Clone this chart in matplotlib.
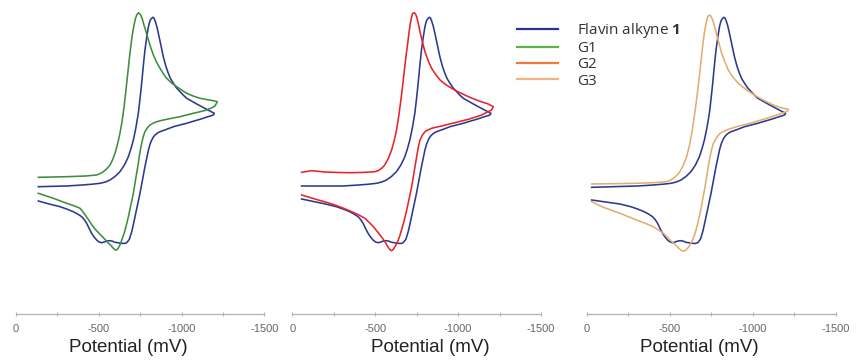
import matplotlib
matplotlib.use("Agg")
import matplotlib.pyplot as plt
from matplotlib.lines import Line2D
from matplotlib.ticker import FixedLocator, FixedFormatter

plt.rcParams["mathtext.fontset"] = "custom"
plt.rcParams["mathtext.rm"] = "Open Sans"
plt.rcParams["mathtext.bf"] = "Open Sans:bold"

# ---- data: cyclic voltammograms (potential in mV, current in arbitrary units) ----
# Flavin alkyne 1: common part of the cycle (forward scan -> vertex -> reverse scan)
flavin_E = [-306, -400, -460, -508, -540, -568, -598, -628, -655, -679, -694, -709,
            -724, -739, -749, -759, -769, -779, -790, -800, -807, -814, -826, -833,
            -840, -850, -860, -875, -890, -905, -920, -935, -951, -970, -991, -1010,
            -1031, -1060, -1092, -1120, -1152, -1175, -1198,
            -1192, -1150, -1112, -1070, -1031, -990, -951, -910, -870, -855, -840,
            -830, -820, -810, -800, -790, -779, -764, -749, -734, -719, -709, -699,
            -685, -669, -655, -638, -618, -598, -583, -568, -556, -544, -530, -518,
            -502, -487, -472, -457, -442, -427, -412, -397, -372, -346, -306, -266,
            -200]
flavin_I = [0.10, 0.20, 0.28, 0.37, 0.50, 0.70, 1.05, 1.53, 2.20, 3.03, 3.80, 4.70,
            5.90, 7.37, 8.80, 10.37, 12.10, 13.70, 15.00, 16.03, 16.50, 16.77, 16.97, 16.90,
            16.63, 16.10, 15.37, 14.20, 13.03, 12.10, 11.37, 10.80, 10.37, 9.90, 9.53, 9.20,
            8.87, 8.60, 8.30, 8.05, 7.77, 7.57, 7.37,
            7.20, 6.98, 6.77, 6.57, 6.37, 6.20, 6.03, 5.77, 5.53, 5.40, 5.20,
            5.00, 4.70, 4.30, 3.70, 2.90, 2.03, 0.70, -0.63, -1.80, -2.97, -3.75, -4.47,
            -5.23, -5.57, -5.65, -5.63, -5.58, -5.53, -5.42, -5.37, -5.38, -5.43, -5.52, -5.57,
            -5.50, -5.30, -5.00, -4.63, -4.15, -3.63, -3.25, -2.97, -2.70, -2.47, -2.20, -1.97,
            -1.70]
# scan start/end of the flavin trace in each panel
flavin_start_E = [-135, -56, -30]
flavin_start_I = [0.03, 0.10, -0.03]
flavin_end_I = [-1.40, -1.20, -1.30]

g1_E = [-135, -306, -420, -487, -510, -528, -548, -568, -583, -598, -613, -628, -641,
        -653, -663, -673, -683, -693, -703, -713, -721, -729, -741, -753, -763, -773,
        -786, -800, -815, -830, -850, -870, -890, -910, -940, -971, -1000, -1031,
        -1070, -1112, -1150, -1192, -1216,
        -1202, -1180, -1152, -1110, -1071, -1030, -991, -950, -910, -880, -850, -830,
        -810, -795, -779, -769, -759, -749, -739, -724, -709, -694, -679, -666, -653,
        -640, -628, -618, -608, -598, -588, -573, -558, -538, -518, -497, -477, -457,
        -437, -412, -387, -346, -306, -266, -226, -180, -135]
g1_I = [0.97, 1.03, 1.10, 1.20, 1.35, 1.53, 1.82, 2.20, 2.70, 3.37, 4.25, 5.37, 6.60,
        8.03, 9.50, 11.03, 12.60, 14.03, 15.25, 16.20, 16.80, 17.20, 17.43, 17.20, 16.80, 16.20,
        15.50, 14.70, 13.90, 13.20, 12.45, 11.87, 11.33, 10.87, 10.40, 10.03, 9.70, 9.37,
        9.10, 8.87, 8.75, 8.63, 8.53,
        8.10, 7.90, 7.70, 7.52, 7.37, 7.20, 7.03, 6.90, 6.77, 6.66, 6.53, 6.40,
        6.20, 5.95, 5.53, 5.05, 4.37, 3.50, 2.37, 0.90, -0.63, -1.80, -2.97, -3.85, -4.63,
        -5.25, -5.80, -6.10, -6.30, -6.28, -6.13, -5.85, -5.60, -5.25, -4.90, -4.55, -4.20, -3.75,
        -3.25, -2.65, -2.13, -1.85, -1.63, -1.38, -1.13, -0.88, -0.63]

g2_E = [-56, -117, -197, -280, -358, -430, -499, -520, -539, -555, -569, -584, -599,
        -614, -629, -642, -655, -666, -676, -686, -696, -704, -712, -719, -726, -736,
        -743, -750, -760, -770, -785, -800, -820, -840, -865, -891, -925, -961, -1000,
        -1041, -1080, -1122, -1152, -1182, -1212,
        -1202, -1172, -1142, -1100, -1062, -1020, -981, -940, -901, -870, -840, -820,
        -800, -785, -770, -760, -750, -735, -720, -705, -690, -675, -659, -647, -635,
        -622, -609, -599, -591, -583, -571, -559, -544, -529, -509, -489, -463, -438,
        -400, -358, -310, -257, -207, -157, -107, -56]
g2_I = [1.47, 1.63, 1.50, 1.45, 1.43, 1.46, 1.53, 1.65, 1.87, 2.15, 2.53, 3.05, 3.70,
        4.60, 5.70, 7.10, 8.70, 10.20, 11.70, 13.10, 14.37, 15.45, 16.37, 16.95, 17.37, 17.43,
        17.30, 17.03, 16.35, 15.53, 14.50, 13.53, 12.60, 11.87, 11.25, 10.70, 10.25, 9.87, 9.52,
        9.20, 8.90, 8.63, 8.46, 8.30, 8.03,
        7.70, 7.45, 7.20, 6.97, 6.77, 6.60, 6.43, 6.27, 6.10, 5.99, 5.87, 5.72,
        5.53, 5.20, 4.70, 4.00, 3.03, 1.55, 0.03, -1.15, -2.30, -3.35, -4.30, -4.95, -5.47,
        -5.90, -6.23, -6.37, -6.30, -6.13, -5.82, -5.47, -5.13, -4.80, -4.38, -3.97, -3.53, -3.13,
        -2.78, -2.47, -2.13, -1.80, -1.53, -1.30, -1.05, -0.80]

g3_E = [-30, -160, -301, -400, -482, -502, -522, -542, -562, -582, -602, -618, -633,
        -646, -659, -671, -683, -693, -703, -711, -719, -725, -731, -743, -751, -759,
        -771, -783, -798, -813, -833, -853, -878, -904, -934, -964, -1004, -1044, -1084,
        -1124, -1155, -1185, -1215,
        -1205, -1175, -1145, -1105, -1064, -1024, -984, -944, -904, -873, -843, -823,
        -803, -783, -763, -751, -739, -726, -713, -698, -683, -668, -653, -638, -622,
        -607, -592, -582, -572, -557, -542, -522, -502, -482, -462, -432, -402, -352,
        -301, -251, -201, -150, -100, -65, -30]
g3_I = [0.30, 0.33, 0.37, 0.43, 0.53, 0.67, 0.87, 1.15, 1.53, 2.20, 3.03, 4.10, 5.37,
        6.80, 8.37, 10.00, 11.70, 13.30, 14.70, 15.65, 16.37, 16.80, 17.10, 17.20, 17.00, 16.70,
        16.00, 15.20, 14.30, 13.37, 12.50, 11.70, 11.05, 10.53, 10.08, 9.70, 9.27, 8.87, 8.52,
        8.20, 8.02, 7.87, 7.77,
        7.53, 7.37, 7.20, 6.98, 6.77, 6.57, 6.37, 6.20, 6.03, 5.87, 5.70, 5.55,
        5.37, 4.95, 4.37, 3.65, 2.70, 1.40, 0.03, -1.30, -2.63, -3.70, -4.63, -5.30, -5.80,
        -6.15, -6.37, -6.40, -6.37, -6.15, -5.90, -5.60, -5.30, -4.97, -4.63, -4.30, -3.97, -3.63,
        -3.30, -2.97, -2.63, -2.33, -2.03, -1.75, -1.47]

tick_values = [0, -500, -1000, -1500]
tick_labels = ["0", "-500", "-1000", "-1500"]
minor_values = [-250, -750, -1250]

series_labels = ["Flavin alkyne $\\mathbf{1}$", "G1", "G2", "G3"]

# ---- styling ----
c_flavin = "#2d3990"
curve_colors = ["#3f8d3f", "#e8232b", "#e2ad72"]
legend_colors = ["#2e3192", "#5db446", "#f47a3c", "#f4b283"]
compare = [(g1_E, g1_I), (g2_E, g2_I), (g3_E, g3_I)]

W, H = 857, 364
fig = plt.figure(figsize=(W / 100, H / 100), dpi=100)

panel_left_px = [16.0, 292.3, 586.7]
panel_width_px = [248.3, 248.7, 249.0]
axis_y_px = 314
label_xfrac = [0.453, 0.554, 0.451]

for k in range(3):
    ax = fig.add_axes([panel_left_px[k] / W, (H - axis_y_px) / H,
                       panel_width_px[k] / W, axis_y_px / H])
    E = [flavin_start_E[k]] + flavin_E + [flavin_start_E[k]]
    I = [flavin_start_I[k]] + flavin_I + [flavin_end_I[k]]
    ax.plot(E, I, color=c_flavin, lw=1.15, solid_joinstyle="round")
    ax.plot(compare[k][0], compare[k][1], color=curve_colors[k], lw=1.15,
            solid_joinstyle="round")

    ax.set_xlim(0, -1500)
    ax.set_ylim(-12.7, 18.7)
    for s in ("left", "top", "right"):
        ax.spines[s].set_visible(False)
    ax.spines["bottom"].set_color("#b3b3b3")
    ax.spines["bottom"].set_linewidth(0.9)
    ax.set_yticks([])
    ax.xaxis.set_major_locator(FixedLocator(tick_values))
    ax.xaxis.set_major_formatter(FixedFormatter(tick_labels))
    ax.xaxis.set_minor_locator(FixedLocator(minor_values))
    ax.tick_params(axis="x", which="both", direction="inout", length=3, width=0.8,
                   color="#b3b3b3")
    ax.tick_params(axis="x", which="major", pad=6, labelsize=8, labelcolor="#666666")
    for t in ax.get_xticklabels():
        t.set_fontfamily("Liberation Sans")
    ax.set_xlabel("Potential (mV)", fontsize=13.5, family="Liberation Sans",
                  color="#222222")
    ax.xaxis.set_label_coords(label_xfrac[k], -0.08)
    ax.patch.set_visible(False)

handles = [Line2D([], [], color=c, lw=1.6) for c in legend_colors]
fig.legend(handles, series_labels, loc="upper left",
           bbox_to_anchor=(517 / W, 1 - 21 / H), frameon=False,
           prop={"family": "Open Sans", "size": 11}, labelcolor="#333333",
           handlelength=2.7, handletextpad=1.25, labelspacing=0.08,
           borderpad=0, borderaxespad=0)

fig.savefig("out.png", dpi=100)
